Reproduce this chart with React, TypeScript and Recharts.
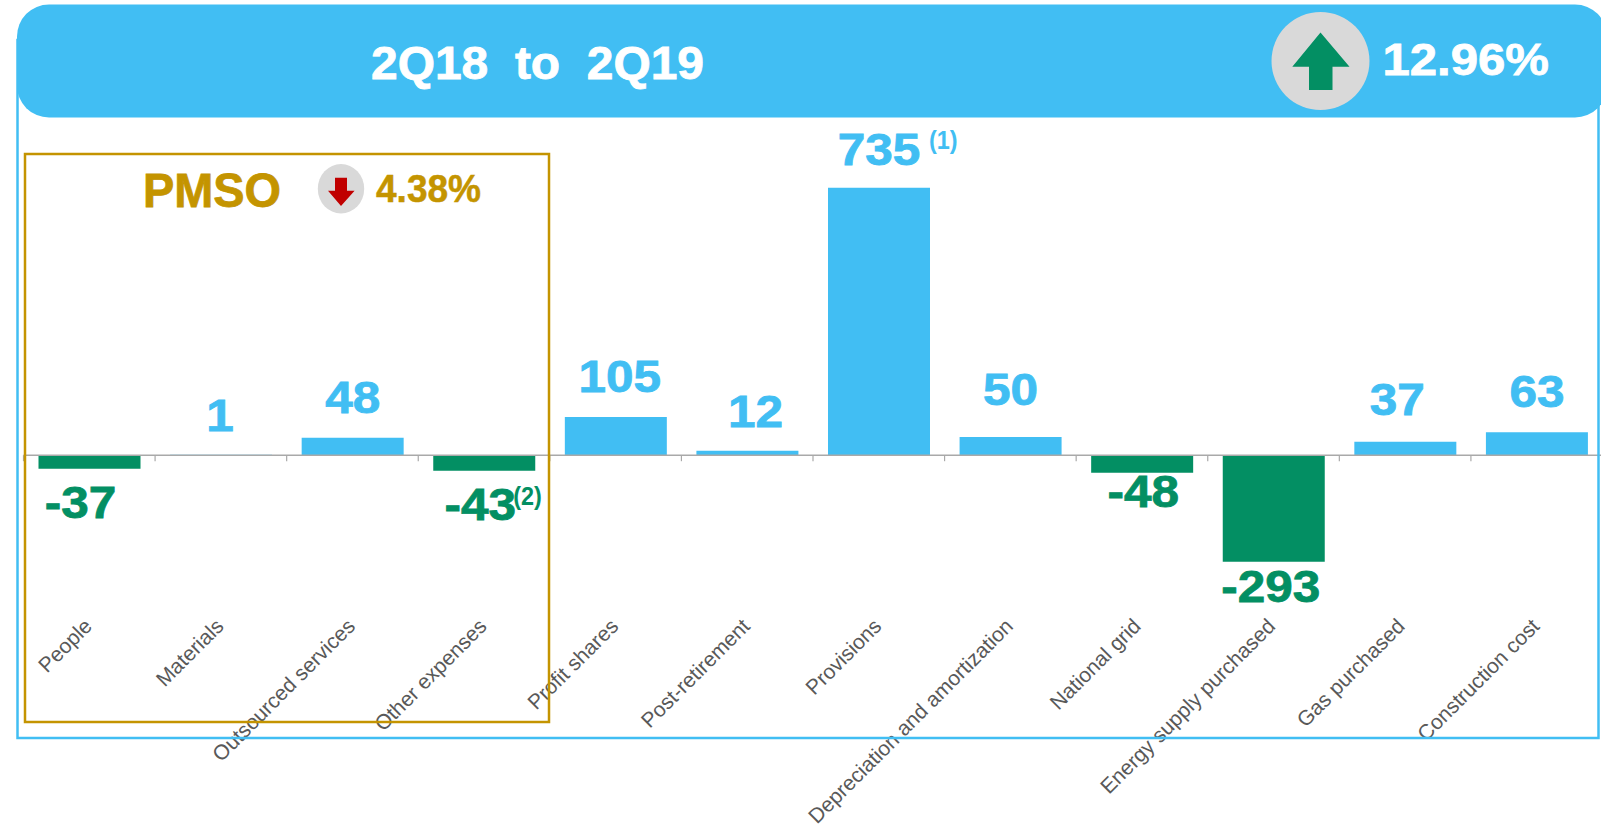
import React from "react";
import { BarChart, Bar, XAxis, YAxis, Cell, LabelList, ReferenceLine } from "recharts";

const categories = ["People", "Materials", "Outsourced services", "Other expenses", "Profit shares", "Post-retirement", "Provisions", "Depreciation and amortization", "National grid", "Energy supply purchased", "Gas purchased", "Construction cost"];
const values = [-37, 1, 48, -43, 105, 12, 735, 50, -48, -293, 37, 63];
const notes = ["", "", "", "(2)", "", "", "(1)", "", "", "", "", ""];
const labelNudgeX = [-9, -1, 0, -4, 4, 8, 0, 0, 1, -3, -8, 0];
const labelNudgeY = [0, 0, -1, 0, -1, 0, 1, -8, 0, 0, -3, -1];
const tickNudgeX = [0, 0, 0, 0, 0, 0, 0, 0, -4, -1, -3, 0];

const BLUE = "#41BEF3";
const GREEN = "#038F63";
const GOLD = "#C49400";
const RED = "#C00000";
const GREY = "#D9D9D9";
const AXIS = "#A9A9A9";
const TICK = "#595959";
const FONT = "'Liberation Sans', Arial, sans-serif";

const data = categories.map((name, i) => ({ name, value: values[i], note: notes[i], dx: labelNudgeX[i], dy: labelNudgeY[i] }));

const domainMin = -450;
const domainMax = 800;
const plotTop = 164;
const plotBottom = 619;
const plotLeft = 23.5;
const plotRight = 1602.5;
const zeroOffset = ((0 - domainMin) / (domainMax - domainMin)) * (plotBottom - plotTop);
const bandWidth = (plotRight - plotLeft) / categories.length;

const CategoryTick = (props: any) => {
  const { x, y, payload, index } = props;
  const tickX = x - bandWidth / 2;
  const zeroY = y - zeroOffset;
  const labelX = x + 4 + tickNudgeX[index];
  const labelY = y + 8.5;
  return (
    <g>
      <line x1={tickX} x2={tickX} y1={zeroY} y2={zeroY + 6} stroke={AXIS} strokeWidth={1.2} />
      <text x={labelX} y={labelY} textAnchor="end" fill={TICK} fontFamily={FONT} fontSize={21}
        transform={`rotate(-45 ${labelX} ${labelY})`}>{payload.value}</text>
    </g>
  );
};

const ValueLabel = (props: any) => {
  const { x, y, width, height, index } = props;
  const d = data[index];
  const cx = x + width / 2 + d.dx;
  const negative = d.value < 0;
  const edge = negative ? Math.max(y, y + height) : Math.min(y, y + height);
  const isSmallDrop = d.value === -48;
  const isLargeDrop = d.value === -293;
  const base = negative ? edge + (isSmallDrop ? 34 : isLargeDrop ? 40 : 49) : edge - 24;
  const baseline = base + d.dy;
  const color = negative ? GREEN : BLUE;
  const halfWidth = (String(d.value).length * 0.556 * 45 * 1.12) / 2;
  return (
    <g>
      <text transform={`translate(${cx} ${baseline}) scale(1.1 1)`} textAnchor="middle" fill={color} stroke={color} strokeWidth={0.8}
        fontFamily={FONT} fontWeight="bold" fontSize={45}>{d.value}</text>
      {d.note ? (
        <text transform={`translate(${cx + halfWidth + (negative ? -9 : 8)} ${baseline + (negative ? -15 : -16)}) scale(0.9 1)`} fill={color} fontFamily={FONT}
          fontWeight="bold" fontSize={26}>{d.note}</text>
      ) : null}
    </g>
  );
};

const Overlay = () => (
  <svg width={1601} height={826} style={{ position: "absolute", left: 0, top: 0, pointerEvents: "none" }}>
    <rect x={17.5} y={40} width={1581} height={698} fill="none" stroke={BLUE} strokeWidth={2.5} />
    <rect x={17} y={4.5} width={1590} height={113} rx={32} ry={32} fill={BLUE} />
    <text x={371} y={79} textLength={333} lengthAdjust="spacingAndGlyphs" fill="#fff" stroke="#fff" strokeWidth={0.8} fontFamily={FONT} fontWeight="bold" fontSize={46} style={{ whiteSpace: "pre" }}>{"2Q18  to  2Q19"}</text>
    <circle cx={1320.5} cy={61} r={49} fill={GREY} />
    <polygon points="1320.5,32.5 1349.5,66.7 1332.5,66.7 1332.5,90 1309,90 1309,66.7 1292.3,66.7" fill={GREEN} />
    <text x={1382.5} y={75} textLength={166.5} lengthAdjust="spacingAndGlyphs" fill="#fff" stroke="#fff" strokeWidth={0.8} fontFamily={FONT} fontWeight="bold" fontSize={45}>12.96%</text>
    <rect x={25} y={154} width={524} height={568} fill="none" stroke={GOLD} strokeWidth={2.5} />
    <text x={143} y={206.5} textLength={138} lengthAdjust="spacingAndGlyphs" fill={GOLD} stroke={GOLD} strokeWidth={0.8} fontFamily={FONT} fontWeight="bold" fontSize={48}>PMSO</text>
    <ellipse cx={341} cy={188.7} rx={23.2} ry={24.7} fill={GREY} />
    <polygon points="341,206 354.6,190.7 347,190.7 347,177.7 335,177.7 335,190.7 328,190.7" fill={RED} />
    <text x={376} y={201.5} textLength={105} lengthAdjust="spacingAndGlyphs" fill={GOLD} stroke={GOLD} strokeWidth={0.5} fontFamily={FONT} fontWeight="bold" fontSize={38}>4.38%</text>
  </svg>
);

export default function App() {
  return (
    <div style={{ position: "absolute", left: 0, top: 0, width: 1601, height: 826, overflow: "hidden", background: "#fff" }}>
      <BarChart width={1610} height={826} data={data} barSize={102}
        margin={{ top: plotTop, right: 1610 - plotRight, bottom: 826 - plotBottom - 200, left: plotLeft }}>
        <XAxis dataKey="name" height={200} interval={0} axisLine={false} tickLine={false} tickSize={0} tickMargin={0} tick={CategoryTick} />
        <YAxis hide width={0} domain={[domainMin, domainMax]} />
        <Bar dataKey="value" isAnimationActive={false}>
          {data.map((d) => (<Cell key={d.name} fill={d.value < 0 ? GREEN : BLUE} />))}
          <LabelList dataKey="value" content={ValueLabel} />
        </Bar>
        <ReferenceLine y={0} stroke={AXIS} strokeWidth={1.5} />
      </BarChart>
      <Overlay />
    </div>
  );
}
